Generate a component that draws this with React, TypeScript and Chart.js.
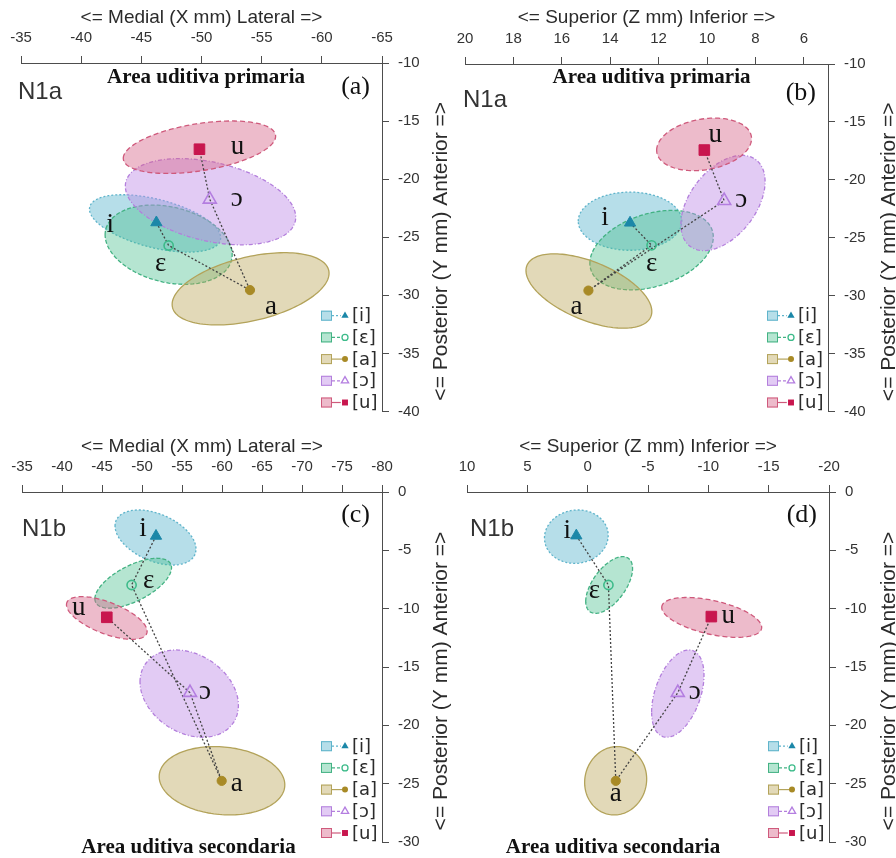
import React, { useEffect, useRef } from "react";
import { Chart, registerables } from "chart.js";

Chart.register(...registerables);

// ---------- shared labels ----------
const VOWEL_LABELS = ["i", "ɛ", "a", "ɔ", "u"];
const LEGEND_LABELS = ["[i]", "[ɛ]", "[a]", "[ɔ]", "[u]"];
const TITLE_MEDIAL = "<= Medial (X mm) Lateral =>";
const TITLE_SUPERIOR = "<= Superior (Z mm) Inferior =>";
const TITLE_POSTERIOR = "<= Posterior (Y mm) Anterior =>";

// ---------- panel (a): X vs Y, N1a ----------
const A_X = [-46.25, -47.27, -54.03, -50.69, -49.83];
const A_Y = [-23.73, -25.71, -29.55, -21.74, -17.42];
const A_ELL_CX = [-46.14, -47.27, -54.08, -50.75, -49.83];
const A_ELL_CY = [-23.81, -25.64, -29.44, -21.94, -17.25];
const A_ELL_RX = [5.45, 5.28, 6.52, 7.08, 6.33];
const A_ELL_RY = [2.47, 3.41, 3.11, 3.71, 2.26];
const A_ELL_RHO = [0.5, 0.25, -0.43, 0.36, -0.42];
const A_X_TICKS = [-35, -40, -45, -50, -55, -60, -65];
const A_Y_TICKS = [-10, -15, -20, -25, -30, -35, -40];

// ---------- panel (b): Z vs Y, N1a ----------
const B_X = [13.18, 12.29, 14.9, 9.29, 10.11];
const B_Y = [-23.71, -25.65, -29.56, -21.8, -17.43];
const B_ELL_CX = [13.18, 12.29, 14.88, 9.34, 10.12];
const B_ELL_CY = [-23.57, -26.07, -29.6, -22.0, -16.94];
const B_ELL_RX = [2.14, 2.55, 2.6, 1.74, 1.96];
const B_ELL_RY = [2.51, 3.43, 3.21, 4.11, 2.27];
const B_ELL_RHO = [0.0, -0.33, 0.55, -0.45, -0.22];
const B_X_TICKS = [20, 18, 16, 14, 12, 10, 8, 6];
const B_Y_TICKS = [-10, -15, -20, -25, -30, -35, -40];

// ---------- panel (c): X vs Y, N1b ----------
const C_X = [-51.75, -48.7, -59.96, -56.0, -45.6];
const C_Y = [-3.77, -7.97, -24.76, -17.2, -10.74];
const C_ELL_CX = [-51.69, -48.9, -60.0, -55.9, -45.6];
const C_ELL_CY = [-3.9, -7.82, -24.75, -17.28, -10.8];
const C_ELL_RX = [5.06, 4.79, 7.85, 6.15, 5.04];
const C_ELL_RY = [2.36, 2.14, 2.93, 3.74, 1.83];
const C_ELL_RHO = [0.42, -0.62, 0.12, 0.27, 0.62];
const C_X_TICKS = [-35, -40, -45, -50, -55, -60, -65, -70, -75, -80];
const C_Y_TICKS = [0, -5, -10, -15, -20, -25, -30];

// ---------- panel (d): Z vs Y, N1b ----------
const D_X = [0.94, -1.72, -2.33, -7.47, -10.25];
const D_Y = [-3.74, -7.97, -24.76, -17.2, -10.68];
const D_ELL_CX = [0.94, -1.78, -2.32, -7.47, -10.28];
const D_ELL_CY = [-3.83, -7.97, -24.75, -17.28, -10.75];
const D_ELL_RX = [2.64, 1.94, 2.57, 2.17, 4.14];
const D_ELL_RY = [2.29, 2.43, 2.93, 3.74, 1.71];
const D_ELL_RHO = [-0.05, -0.58, -0.05, -0.42, 0.5];
const D_X_TICKS = [10, 5, 0, -5, -10, -15, -20];
const D_Y_TICKS = [0, -5, -10, -15, -20, -25, -30];

// ---------- styles ----------
const SANS = "'Liberation Sans', Arial, Helvetica, sans-serif";
const SERIF = "'Liberation Serif', 'Times New Roman', 'DejaVu Serif', serif";
const LEGEND_FONT = "'DejaVu Sans', Verdana, sans-serif";
const AXIS_COLOR = "#4d4d4d";
const TEXT_COLOR = "#2b2b2b";
const FILL = [
  "rgba(110,190,212,0.5)",
  "rgba(70,190,140,0.4)",
  "rgba(185,165,85,0.42)",
  "rgba(190,140,230,0.45)",
  "rgba(215,105,140,0.45)",
];
const EDGE = ["#5fb4cb", "#43b283", "#b3a35a", "#b37fdc", "#cf5a7c"];
const EDGE_DASH = [[2, 2], [4, 2], [], [4, 2, 1, 2], [5, 3]];
const LEGEND_DASH = [[2, 2], [3, 2], [], [3, 2], []];
const MARK_COLOR = ["#1b87a8", "#3dbb8a", "#a88a26", "#b47ee0", "#c8164e"];
const MARK_STYLE = ["triangle", "circle", "circle", "triangle", "rect"];
const MARK_FILLED = [true, false, true, false, true];
const MARK_RADIUS = [6.5, 4.6, 4.6, 7.5, 7.5];

type Panel = {
  left: number; top: number; width: number; height: number;
  areaLeft: number; areaRight: number; areaTop: number; areaBottom: number;
  xs: number[]; ys: number[];
  ecx: number[]; ecy: number[]; erx: number[]; ery: number[]; erho: number[];
  xMin: number; xMax: number; yMin: number; yMax: number;
  xTicks: number[]; yTicks: number[];
  xTitle: string;
  tag: string; tagX: number; tagY: number;
  letter: string; letterY: number;
  areaText: string; areaTextX: number; areaTextY: number;
  labelOffsets: number[][];
};

const PANELS: Panel[] = [
  {
    left: 0, top: 0, width: 456, height: 420,
    areaLeft: 21, areaRight: 382, areaTop: 63, areaBottom: 415,
    xs: A_X, ys: A_Y, ecx: A_ELL_CX, ecy: A_ELL_CY, erx: A_ELL_RX, ery: A_ELL_RY, erho: A_ELL_RHO,
    xMin: -65, xMax: -35, yMin: -40, yMax: -10, xTicks: A_X_TICKS, yTicks: A_Y_TICKS,
    xTitle: TITLE_MEDIAL,
    tag: "N1a", tagX: 18, tagY: 90,
    letter: "(a)", letterY: 87,
    areaText: "Area uditiva primaria", areaTextX: 206, areaTextY: 77.5,
    labelOffsets: [[-46, 1], [-8, 19], [21, 17], [27, 0], [38, -2]],
  },
  {
    left: 448, top: 0, width: 448, height: 420,
    areaLeft: 17, areaRight: 380, areaTop: 64, areaBottom: 415,
    xs: B_X, ys: B_Y, ecx: B_ELL_CX, ecy: B_ELL_CY, erx: B_ELL_RX, ery: B_ELL_RY, erho: B_ELL_RHO,
    xMin: 5, xMax: 20, yMin: -40, yMax: -10, xTicks: B_X_TICKS, yTicks: B_Y_TICKS,
    xTitle: TITLE_SUPERIOR,
    tag: "N1a", tagX: 15, tagY: 98,
    letter: "(b)", letterY: 93,
    areaText: "Area uditiva primaria", areaTextX: 203.5, areaTextY: 77.5,
    labelOffsets: [[-25, -7], [0, 19], [-12, 17], [17, 0], [11, -15]],
  },
  {
    left: 0, top: 429, width: 456, height: 429,
    areaLeft: 22, areaRight: 382, areaTop: 63, areaBottom: 413,
    xs: C_X, ys: C_Y, ecx: C_ELL_CX, ecy: C_ELL_CY, erx: C_ELL_RX, ery: C_ELL_RY, erho: C_ELL_RHO,
    xMin: -80, xMax: -35, yMin: -30, yMax: 0, xTicks: C_X_TICKS, yTicks: C_Y_TICKS,
    xTitle: TITLE_MEDIAL,
    tag: "N1b", tagX: 22, tagY: 98.5,
    letter: "(c)", letterY: 86,
    areaText: "Area uditiva secondaria", areaTextX: 188.5, areaTextY: 416,
    labelOffsets: [[-13, -9], [17, -3], [15, 4], [15, 0], [-28, -9]],
  },
  {
    left: 448, top: 429, width: 448, height: 429,
    areaLeft: 19, areaRight: 381, areaTop: 63, areaBottom: 413,
    xs: D_X, ys: D_Y, ecx: D_ELL_CX, ecy: D_ELL_CY, erx: D_ELL_RX, ery: D_ELL_RY, erho: D_ELL_RHO,
    xMin: -20, xMax: 10, yMin: -30, yMax: 0, xTicks: D_X_TICKS, yTicks: D_Y_TICKS,
    xTitle: TITLE_SUPERIOR,
    tag: "N1b", tagX: 22, tagY: 98.5,
    letter: "(d)", letterY: 86,
    areaText: "Area uditiva secondaria", areaTextX: 165, areaTextY: 416,
    labelOffsets: [[-9, -7], [-14, 7], [0, 14], [17, 0], [17, 0]],
  },
];

function textCentered(ctx: CanvasRenderingContext2D, text: string, x: number, cy: number, align: CanvasTextAlign) {
  ctx.textAlign = align;
  ctx.textBaseline = "alphabetic";
  const m = ctx.measureText(text);
  const asc = m.actualBoundingBoxAscent || 0;
  const desc = m.actualBoundingBoxDescent || 0;
  ctx.fillText(text, x, cy + (asc - desc) / 2);
}

function drawMarker(ctx: CanvasRenderingContext2D, k: number, x: number, y: number, r: number) {
  ctx.beginPath();
  const style = MARK_STYLE[k];
  if (style === "triangle") {
    for (let j = 0; j < 3; j++) {
      const a = (j * 2 * Math.PI) / 3;
      const px = x + Math.sin(a) * r;
      const py = y - Math.cos(a) * r;
      if (j === 0) ctx.moveTo(px, py); else ctx.lineTo(px, py);
    }
    ctx.closePath();
  } else if (style === "rect") {
    const s = r * Math.SQRT1_2;
    ctx.rect(x - s, y - s, 2 * s, 2 * s);
  } else {
    ctx.arc(x, y, r, 0, Math.PI * 2);
  }
  if (MARK_FILLED[k]) {
    ctx.fillStyle = MARK_COLOR[k];
    ctx.fill();
  } else {
    ctx.fillStyle = "#fff";
    ctx.fill();
    ctx.strokeStyle = MARK_COLOR[k];
    ctx.lineWidth = 1.3;
    ctx.stroke();
  }
}

function makeOverlay(p: Panel) {
  return {
    id: "overlay",
    beforeDatasetsDraw(chart: any) {
      const ctx: CanvasRenderingContext2D = chart.ctx;
      const xs = chart.scales.x;
      const ys = chart.scales.y;
      ctx.save();
      for (let k = 0; k < 5; k++) {
        const rho = p.erho[k];
        const s = Math.sqrt(1 - rho * rho);
        ctx.beginPath();
        const n = 144;
        for (let j = 0; j <= n; j++) {
          const t = (j / n) * Math.PI * 2;
          const vx = p.ecx[k] + p.erx[k] * Math.cos(t);
          const vy = p.ecy[k] + p.ery[k] * (rho * Math.cos(t) + s * Math.sin(t));
          const px = xs.getPixelForValue(vx);
          const py = ys.getPixelForValue(vy);
          if (j === 0) ctx.moveTo(px, py); else ctx.lineTo(px, py);
        }
        ctx.closePath();
        ctx.fillStyle = FILL[k];
        ctx.fill();
        ctx.setLineDash(EDGE_DASH[k]);
        ctx.strokeStyle = EDGE[k];
        ctx.lineWidth = 1.3;
        ctx.stroke();
      }
      ctx.restore();
    },
    afterDatasetsDraw(chart: any) {
      const ctx: CanvasRenderingContext2D = chart.ctx;
      const xs = chart.scales.x;
      const ys = chart.scales.y;
      const area = chart.chartArea;
      ctx.save();
      ctx.setLineDash([]);

      // vowel labels
      ctx.fillStyle = "#111";
      ctx.font = `27px ${SERIF}`;
      for (let k = 0; k < 5; k++) {
        const px = xs.getPixelForValue(p.xs[k]) + p.labelOffsets[k][0];
        const py = ys.getPixelForValue(p.ys[k]) + p.labelOffsets[k][1];
        textCentered(ctx, VOWEL_LABELS[k], px, py, "center");
      }

      // panel tag
      ctx.fillStyle = "#333";
      ctx.font = `24px ${SANS}`;
      textCentered(ctx, p.tag, p.tagX, p.tagY, "left");

      // panel letter
      ctx.fillStyle = "#111";
      ctx.font = `26px ${SERIF}`;
      ctx.textAlign = "right";
      ctx.textBaseline = "middle";
      ctx.fillText(p.letter, area.right - 12, p.letterY);

      // area text
      ctx.font = `bold 21px ${SERIF}`;
      textCentered(ctx, p.areaText, p.areaTextX, p.areaTextY, "center");

      // legend
      const rowH = 21.7;
      const lastY = area.bottom - 9;
      for (let k = 0; k < 5; k++) {
        const cy = lastY - (4 - k) * rowH;
        const sqL = area.right - 61;
        const sqW = 11;
        const sqH = 10;
        ctx.fillStyle = FILL[k];
        ctx.fillRect(sqL, cy - sqH / 2, sqW, sqH);
        ctx.strokeStyle = EDGE[k];
        ctx.lineWidth = 1;
        ctx.setLineDash([]);
        ctx.strokeRect(sqL + 0.5, cy - sqH / 2 + 0.5, sqW - 1, sqH - 1);
        const mx = area.right - 37;
        const mr = k === 1 || k === 2 ? 3 : 4.2;
        ctx.beginPath();
        ctx.setLineDash(LEGEND_DASH[k]);
        ctx.strokeStyle = EDGE[k];
        ctx.lineWidth = 1.2;
        ctx.moveTo(sqL + sqW, cy);
        ctx.lineTo(mx - mr, cy);
        ctx.stroke();
        ctx.setLineDash([]);
        drawMarker(ctx, k, mx, cy, mr);
        ctx.fillStyle = TEXT_COLOR;
        ctx.font = `18px ${LEGEND_FONT}`;
        textCentered(ctx, LEGEND_LABELS[k], area.right - 30, cy, "left");
      }

      // y axis title (reads bottom to top)
      ctx.fillStyle = TEXT_COLOR;
      ctx.font = `21px ${SANS}`;
      ctx.translate(441, (area.top + area.bottom) / 2 + 14);
      ctx.rotate(-Math.PI / 2);
      textCentered(ctx, TITLE_POSTERIOR, 0, 0, "center");
      ctx.restore();
    },
  };
}

function buildConfig(p: Panel): any {
  const data = p.xs.map((x, i) => ({ x, y: p.ys[i] }));
  const gridOpts = {
    display: true,
    drawOnChartArea: false,
    drawTicks: true,
    tickLength: 7,
    color: AXIS_COLOR,
    lineWidth: 1,
  };
  return {
    type: "scatter",
    data: {
      datasets: [
        {
          data,
          showLine: true,
          borderColor: "#444",
          borderWidth: 1.3,
          borderDash: [2, 2],
          pointStyle: MARK_STYLE,
          pointRadius: MARK_RADIUS,
          pointHoverRadius: MARK_RADIUS,
          pointBackgroundColor: MARK_FILLED.map((f, i) => (f ? MARK_COLOR[i] : "rgba(0,0,0,0)")),
          pointBorderColor: MARK_COLOR,
          pointBorderWidth: MARK_FILLED.map((f) => (f ? 1 : 1.6)),
        },
      ],
    },
    options: {
      animation: false,
      responsive: false,
      maintainAspectRatio: false,
      events: [],
      layout: {
        padding: { left: p.areaLeft, top: 0, right: 0, bottom: p.height - p.areaBottom },
      },
      plugins: { legend: { display: false }, tooltip: { enabled: false } },
      scales: {
        x: {
          type: "linear",
          position: "top",
          min: p.xMin,
          max: p.xMax,
          reverse: true,
          afterBuildTicks: (s: any) => {
            s.ticks = p.xTicks.map((v) => ({ value: v }));
          },
          afterFit: (s: any) => {
            s.height = p.areaTop;
            s.paddingLeft = 0;
            s.paddingRight = 0;
          },
          grid: gridOpts,
          border: { display: true, color: AXIS_COLOR, width: 1 },
          ticks: {
            color: "#333",
            font: { family: SANS, size: 15 },
            padding: 9,
            maxRotation: 0,
            autoSkip: false,
            callback: (v: any) => String(v),
          },
          title: {
            display: true,
            text: p.xTitle,
            color: TEXT_COLOR,
            font: { family: SANS, size: 19 },
            padding: { top: 6, bottom: 0 },
          },
        },
        y: {
          type: "linear",
          position: "right",
          min: p.yMin,
          max: p.yMax,
          afterBuildTicks: (s: any) => {
            s.ticks = p.yTicks.map((v) => ({ value: v }));
          },
          afterFit: (s: any) => {
            s.width = p.width - p.areaRight;
            s.paddingTop = 0;
            s.paddingBottom = 0;
          },
          grid: gridOpts,
          border: { display: true, color: AXIS_COLOR, width: 1 },
          ticks: {
            color: "#333",
            font: { family: SANS, size: 15 },
            padding: 9,
            autoSkip: false,
            callback: (v: any) => String(v),
          },
          title: { display: false },
        },
      },
    },
    plugins: [makeOverlay(p)],
  };
}

function PanelChart({ p }: { p: Panel }) {
  const ref = useRef<HTMLCanvasElement>(null);
  useEffect(() => {
    const chart = new Chart(ref.current as HTMLCanvasElement, buildConfig(p));
    return () => chart.destroy();
  }, [p]);
  return (
    <div style={{ position: "absolute", left: p.left, top: p.top, width: p.width, height: p.height }}>
      <canvas ref={ref} width={p.width} height={p.height} style={{ display: "block", width: p.width, height: p.height }} />
    </div>
  );
}

export default function App() {
  return (
    <div style={{ position: "absolute", left: 0, top: 0, width: 896, height: 858, background: "#fff", overflow: "hidden" }}>
      {PANELS.map((p, i) => (
        <PanelChart key={i} p={p} />
      ))}
    </div>
  );
}
